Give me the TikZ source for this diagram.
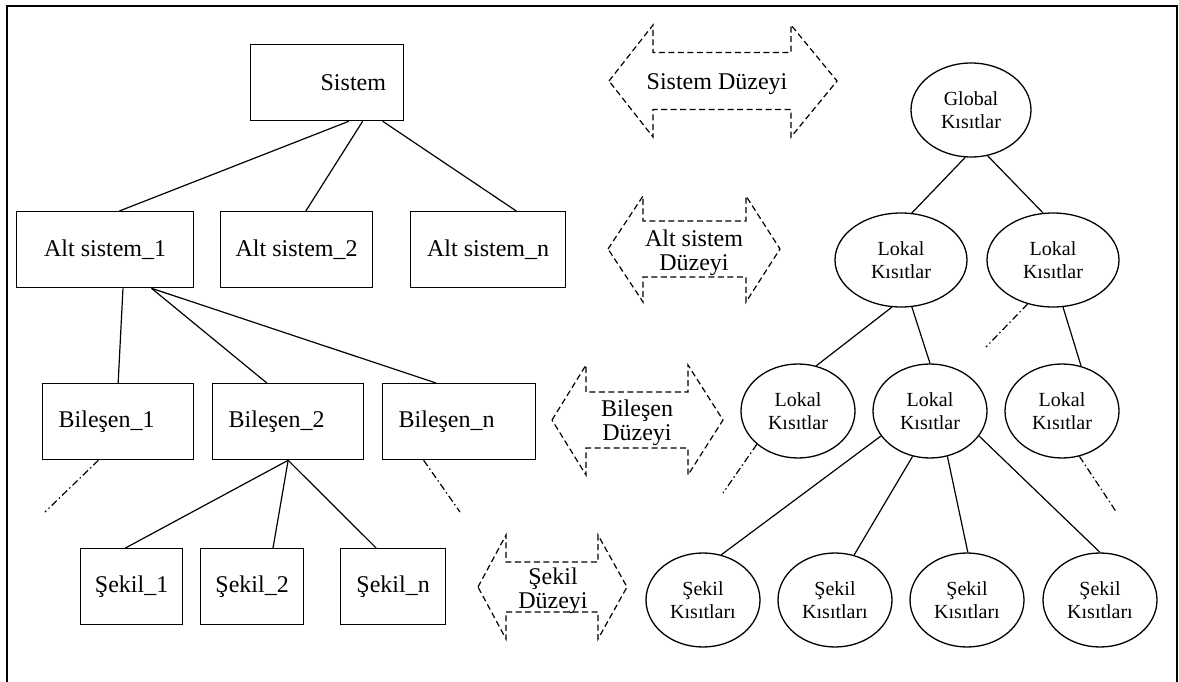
\documentclass[tikz,border=0pt]{standalone}
\usepackage{fontspec}
\setmainfont{Liberation Serif}
\usetikzlibrary{shapes.geometric,calc}

% dashed double arrow: left tip, left neck, right neck, right tip, mid y, shaft half height, head half height
\newcommand\levelarrow[7]{%
  \draw[levelline] (#1,#5) -- (#2,#5-#7) -- (#2,#5-#6) -- (#3,#5-#6) -- (#3,#5-#7)
    -- (#4,#5) -- (#3,#5+#7) -- (#3,#5+#6) -- (#2,#5+#6) -- (#2,#5+#7) -- cycle;}

\tikzset{
  box/.style={draw, line width=1.3pt, rectangle, anchor=north west, inner ysep=0pt,
    minimum height=76pt, font=\fontsize{24}{26}\selectfont},
  ctrbox/.style={box, inner xsep=0pt, align=center},
  leftbox/.style={box, inner xsep=16pt, align=left},
  oval/.style={draw, line width=1.3pt, ellipse, inner sep=0pt, minimum height=94pt,
    minimum width=114pt, align=center, font=\fontsize{20}{23}\selectfont},
  link/.style={line width=1.2pt},
  cont/.style={line width=1.2pt, dash pattern=on 7pt off 3pt on 1.5pt off 3pt},
  levelline/.style={line width=1.2pt, dash pattern=on 6pt off 3.5pt},
  leveltext/.style={align=center, inner sep=0pt, font=\fontsize{24}{24}\selectfont},
}

\begin{document}
\begin{tikzpicture}[x=1pt, y=-1pt]
\useasboundingbox (0,0) rectangle (1179,682);
\fill[white] (0,0) rectangle (1179,682);

% outer frame
\draw[line width=2pt] (7,682) -- (7,6) -- (1177,6) -- (1177,682);

% ---- left tree: system hierarchy ----
\node[box, minimum width=153pt, inner xsep=0pt, text width=153pt, align=left] (sys) at (250,44) {\hspace*{70pt}Sistem};

\node[ctrbox, minimum width=177pt] (as1) at (16,211) {Alt sistem\_1};
\node[ctrbox, minimum width=152pt] (as2) at (220,211) {Alt sistem\_2};
\node[ctrbox, minimum width=155pt] (asn) at (410,211) {Alt sistem\_n};

\node[leftbox, text width=119pt] (b1) at (42,383) {Bileşen\_1};
\node[leftbox, text width=119pt] (b2) at (212,383) {Bileşen\_2};
\node[leftbox, text width=121pt] (bn) at (382,383) {Bileşen\_n};

\node[ctrbox, minimum width=102pt] (s1) at (80,548) {Şekil\_1};
\node[ctrbox, minimum width=103pt] (s2) at (200,548) {Şekil\_2};
\node[ctrbox, minimum width=105pt] (sn) at (340,548) {Şekil\_n};

\coordinate (b1end) at (45,512);
\coordinate (bnend) at (460,512);

\draw[link] ($(sys.south west)!0.64!(sys.south east)$) -- ($(as1.north west)!0.58!(as1.north east)$);
\draw[link] ($(sys.south west)!0.73!(sys.south east)$) -- ($(as2.north west)!0.56!(as2.north east)$);
\draw[link] ($(sys.south west)!0.86!(sys.south east)$) -- ($(asn.north west)!0.68!(asn.north east)$);

\draw[link] ($(as1.south west)!0.60!(as1.south east)$) -- ($(b1.north west)!0.50!(b1.north east)$);
\draw[link] ($(as1.south west)!0.76!(as1.south east)$) -- ($(b2.north west)!0.36!(b2.north east)$);
\draw[link] ($(as1.south west)!0.76!(as1.south east)$) -- ($(bn.north west)!0.35!(bn.north east)$);

\draw[link] ($(b2.south west)!0.5!(b2.south east)$) -- ($(s1.north west)!0.44!(s1.north east)$);
\draw[link] ($(b2.south west)!0.5!(b2.south east)$) -- ($(s2.north west)!0.70!(s2.north east)$);
\draw[link] ($(b2.south west)!0.5!(b2.south east)$) -- ($(sn.north west)!0.34!(sn.north east)$);

\draw[cont] ($(b1.south west)!0.37!(b1.south east)$) -- (b1end);
\draw[cont] ($(bn.south west)!0.27!(bn.south east)$) -- (bnend);

% ---- level arrows ----
\levelarrow{609}{653}{791}{837}{81}{28.5}{56}
\node[leveltext] (lvsys) at (717,84) {Sistem Düzeyi};
\levelarrow{608}{643}{746}{780}{249}{28}{53}
\node[leveltext] (lvsub) at (694,253) {Alt sistem\\Düzeyi};
\levelarrow{552}{586}{688}{723}{420}{28}{55}
\node[leveltext] (lvcomp) at (637,423) {Bileşen\\Düzeyi};
\levelarrow{478}{506}{598}{627}{587}{25}{52}
\node[leveltext] (lvshape) at (553,591) {Şekil\\Düzeyi};

% ---- right tree: constraints ----
\node[oval, minimum width=120pt] (g) at (971,110) {Global\\Kısıtlar};
\node[oval, minimum width=132pt] (l1) at (901,260) {Lokal\\Kısıtlar};
\node[oval, minimum width=132pt] (l2) at (1053,260) {Lokal\\Kısıtlar};
\node[oval] (m1) at (798,411) {Lokal\\Kısıtlar};
\node[oval] (m2) at (930,411) {Lokal\\Kısıtlar};
\node[oval] (m3) at (1062,411) {Lokal\\Kısıtlar};
\node[oval] (e1) at (703,600) {Şekil\\Kısıtları};
\node[oval] (e2) at (835,600) {Şekil\\Kısıtları};
\node[oval] (e3) at (967,600) {Şekil\\Kısıtları};
\node[oval] (e4) at (1100,600) {Şekil\\Kısıtları};

\coordinate (l2end) at (986,347);
\coordinate (m1end) at (723,493);
\coordinate (m3end) at (1117,513);

\draw[link] (g.263) -- (l1.77);
\draw[link] (g.290) -- (l2.102);
\draw[link] (l1.259) -- (m1.68);
\draw[link] (l1.283) -- (m2.90);
\draw[link] (l2.282) -- (m3.67);
\draw[cont] (l2.240) -- (l2end);
\draw[cont] (m1.219) -- (m1end);
\draw[cont] (m3.291) -- (m3end);
\draw[link] (m2.207) -- (e1.68);
\draw[link] (m2.249) -- (e2.67);
\draw[link] (m2.291) -- (e3.89);
\draw[link] (m2.333) -- (e4.90);
\end{tikzpicture}
\end{document}
